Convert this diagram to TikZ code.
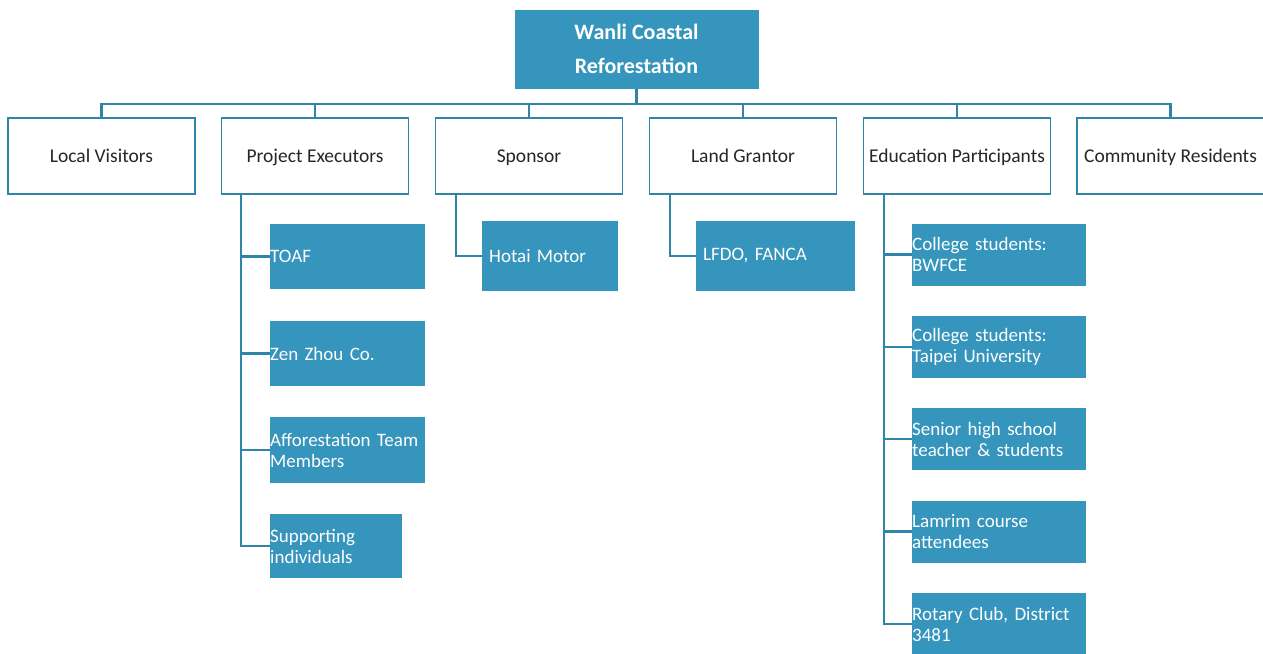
\documentclass[tikz,border=0pt]{standalone}
\usepackage{fontspec}
\setmainfont{Carlito}
\frenchspacing
\definecolor{boxfill}{RGB}{53,149,188}
\definecolor{linec}{RGB}{47,133,168}
\definecolor{txt}{RGB}{38,38,38}
\begin{document}
\begin{tikzpicture}[x=1pt,y=-1pt,
  conn/.style={draw=linec,line width=2.4pt},
  top/.style={fill=boxfill,draw=white,line width=0.8pt,text=white,font=\fontsize{22}{34}\selectfont\bfseries,align=center,minimum width=245pt,minimum height=80pt,inner sep=0pt},
  lvl/.style={fill=white,draw=linec,line width=1.8pt,text=txt,font=\fontsize{19.5}{22}\selectfont,minimum width=187pt,minimum height=76pt,inner sep=0pt,text height=15pt,text depth=3pt},
  kid/.style={fill=boxfill,draw=none,text=white,font=\fontsize{19}{21}\selectfont\frenchspacing,align=left,inner xsep=0pt,inner ysep=0pt,minimum height=#1},
]
\clip (0,0) rectangle (1263,653);
\useasboundingbox (0,0) rectangle (1263,653);
\fill[white] (0,0) rectangle (1263,653);

\node[top] (root) at (636.5,49) {Wanli Coastal\\Reforestation};

\node[lvl] (lv) at (101.5,156) {Local Visitors};
\node[lvl] (pe) at (315,156) {Project Executors};
\node[lvl] (sp) at (529,156) {Sponsor};
\node[lvl] (lg) at (743,156) {Land Grantor};
\node[lvl] (ep) at (957,156) {Education Participants};
\node[lvl] (cr) at (1170.5,156) {Community Residents};

\coordinate (bus) at (636.5,104);
\draw[conn] (root.south) -- (bus);
\draw[conn] (lv.north) |- (bus) -| (cr.north);
\foreach \n in {pe,sp,lg,ep} \draw[conn] (\n.north) -- (\n.north |- bus);

% Project executors children
\node[kid=65pt,text width=155pt,minimum width=155pt,anchor=west] (c1) at (270,256.5) {TOAF};
\node[kid=65pt,text width=155pt,minimum width=155pt,anchor=west] (c2) at (270,353.5) {Zen Zhou Co.};
\node[kid=66pt,text width=155pt,minimum width=155pt,anchor=west] (c3) at (270,450) {Afforestation Team\\Members};
\node[kid=64pt,text width=132pt,minimum width=132pt,anchor=west] (c4) at (270,546) {Supporting\\individuals};
\coordinate (pev) at (241,194);
\draw[conn] (pe.south -| pev) |- (c4.west);
\foreach \c in {c1,c2,c3} \draw[conn] (pev |- \c.west) -- (\c.west);

% Sponsor
\node[kid=70pt,text width=136pt,minimum width=136pt,anchor=west] (h1) at (482,256) {\hspace*{7pt}Hotai Motor};
\coordinate (spv) at (456,194);
\draw[conn] (sp.south -| spv) |- (h1.west);

% Land grantor
\node[kid=70pt,text width=159pt,minimum width=159pt,anchor=west] (l1) at (696,256) {\hspace*{7pt}LFDO, FANCA};
\coordinate (lgv) at (670,194);
\draw[conn] (lg.south -| lgv) |- (l1.west);

% Education participants
\node[kid=62pt,text width=174pt,minimum width=174pt,anchor=west] (e1) at (912,254.5) {College students:\\BWFCE};
\node[kid=62pt,text width=174pt,minimum width=174pt,anchor=west] (e2) at (912,347) {College students:\\Taipei University};
\node[kid=62pt,text width=174pt,minimum width=174pt,anchor=west] (e3) at (912,439) {Senior high school\\teacher \& students};
\node[kid=62pt,text width=174pt,minimum width=174pt,anchor=west] (e4) at (912,531.5) {Lamrim course\\attendees};
\node[kid=62pt,text width=174pt,minimum width=174pt,anchor=west] (e5) at (912,624) {Rotary Club, District\\3481};
\coordinate (epv) at (884,194);
\draw[conn] (ep.south -| epv) |- (e5.west);
\foreach \c in {e1,e2,e3,e4} \draw[conn] (epv |- \c.west) -- (\c.west);
\end{tikzpicture}
\end{document}
